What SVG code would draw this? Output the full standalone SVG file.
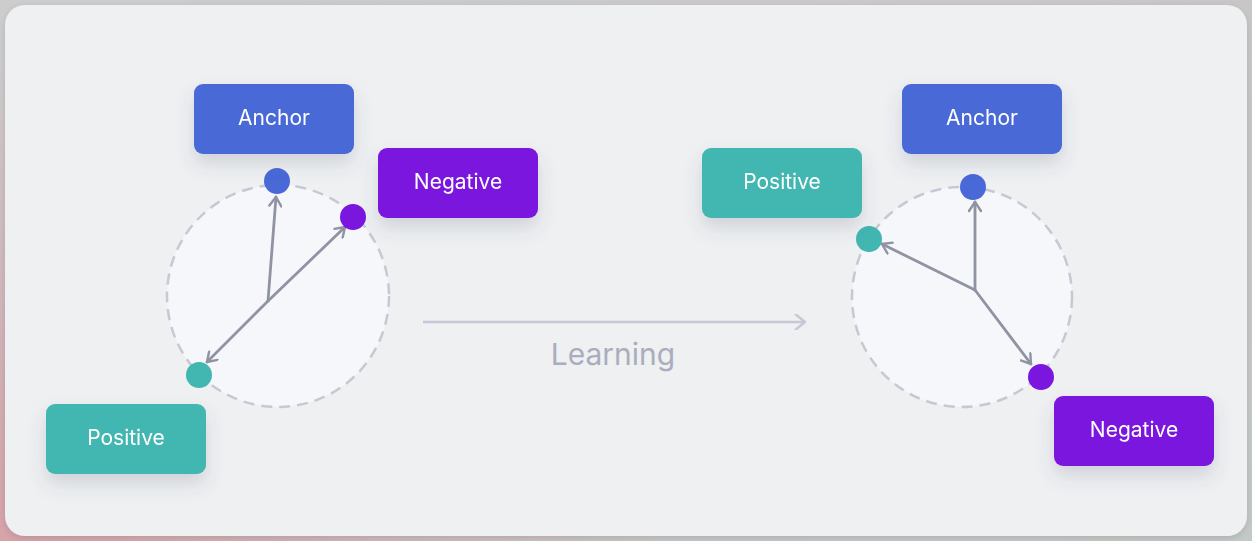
<svg xmlns="http://www.w3.org/2000/svg" width="1252" height="541" viewBox="0 0 1252 541">
<style>
.lbl{font-family:Inter,"Noto Sans","Liberation Sans",sans-serif;font-size:21px;font-weight:400;fill:#ffffff;text-anchor:middle;dominant-baseline:central}
.ring{fill:#f5f7fb;stroke:#c6c9d3;stroke-width:2.5;stroke-dasharray:11 7}
.vec{stroke:#8f93a2;stroke-width:2.8;fill:none;stroke-linecap:round;marker-end:url(#chev)}
.anc{fill:#4869d7}
.neg{fill:#7a16de}
.pos{fill:#42b6b0}
</style>
<defs>
<linearGradient id="bg" x1="0" y1="0" x2="1" y2="1">
<stop offset="0" stop-color="#cdcdcd"/>
<stop offset="0.5" stop-color="#c9c6c8"/>
<stop offset="1" stop-color="#c3c9c6"/>
</linearGradient>
<radialGradient id="bg2" cx="0" cy="1" r="0.9" gradientUnits="objectBoundingBox" gradientTransform="translate(0,1) scale(0.6,1) translate(0,-1)">
<stop offset="0" stop-color="#d6a3a9" stop-opacity="1"/>
<stop offset="1" stop-color="#d6a3a9" stop-opacity="0"/>
</radialGradient>
<filter id="sh" x="-30%" y="-30%" width="160%" height="190%">
<feDropShadow dx="0" dy="10" stdDeviation="9" flood-color="#4a4f70" flood-opacity="0.18"/>
</filter>
<filter id="csh" x="-5%" y="-5%" width="110%" height="110%">
<feDropShadow dx="0" dy="2" stdDeviation="3" flood-color="#000" flood-opacity="0.12"/>
</filter>
<marker id="chev" viewBox="0 0 14 14" refX="12" refY="7" markerWidth="14" markerHeight="14" markerUnits="userSpaceOnUse" orient="auto">
<path d="M3,1 L12,7 L3,13" fill="none" stroke="#8f93a2" stroke-width="2.4" stroke-linecap="round" stroke-linejoin="round"/>
</marker>
<marker id="chevL" viewBox="0 0 14 14" refX="12" refY="7" markerWidth="16" markerHeight="16" markerUnits="userSpaceOnUse" orient="auto">
<path d="M4,0.5 L12,7 L4,13.5" fill="none" stroke="#c5c8d6" stroke-width="2.2" stroke-linecap="round" stroke-linejoin="round"/>
</marker>
</defs>
<rect width="1252" height="541" fill="url(#bg)"/>
<rect width="1252" height="541" fill="url(#bg2)"/>
<rect x="5" y="5" width="1242" height="531" rx="20" fill="#eef0f2" filter="url(#csh)"/>

<g id="left-space">
<circle class="ring" cx="278" cy="296" r="111"/>
</g>
<g id="right-space">
<circle class="ring" cx="962" cy="297" r="110"/>
</g>

<g id="connectors">
<line class="vec" x1="268" y1="301" x2="276" y2="197"/>
<line class="vec" x1="268" y1="301" x2="345" y2="227"/>
<line class="vec" x1="268" y1="301" x2="207" y2="362"/>
<line class="vec" x1="975" y1="290" x2="975" y2="202"/>
<line class="vec" x1="975" y1="290" x2="882" y2="244"/>
<line class="vec" x1="975" y1="290" x2="1031" y2="364"/>
<line x1="423" y1="322" x2="805" y2="322" stroke="#c5c8d6" stroke-width="2.5" marker-end="url(#chevL)"/>
<text x="613" y="354" font-family="Inter,'Noto Sans','Liberation Sans',sans-serif" font-size="30" fill="#a9adbd" text-anchor="middle" dominant-baseline="central">Learning</text>
</g>

<g id="left-dots">
<circle class="anc" cx="277" cy="181" r="13"/>
<circle class="neg" cx="353" cy="217" r="13"/>
<circle class="pos" cx="199" cy="375" r="13"/>
</g>
<g id="right-dots">
<circle class="anc" cx="973" cy="187" r="13"/>
<circle class="pos" cx="869" cy="239" r="13"/>
<circle class="neg" cx="1041" cy="377" r="13"/>
</g>

<g id="left-anchor" filter="url(#sh)">
<rect class="anc" x="194" y="84" width="160" height="70" rx="9"/>
<text class="lbl" x="274" y="117">Anchor</text>
</g>
<g id="left-negative" filter="url(#sh)">
<rect class="neg" x="378" y="148" width="160" height="70" rx="9"/>
<text class="lbl" x="458" y="181">Negative</text>
</g>
<g id="left-positive" filter="url(#sh)">
<rect class="pos" x="46" y="404" width="160" height="70" rx="9"/>
<text class="lbl" x="126" y="437">Positive</text>
</g>
<g id="right-positive" filter="url(#sh)">
<rect class="pos" x="702" y="148" width="160" height="70" rx="9"/>
<text class="lbl" x="782" y="181">Positive</text>
</g>
<g id="right-anchor" filter="url(#sh)">
<rect class="anc" x="902" y="84" width="160" height="70" rx="9"/>
<text class="lbl" x="982" y="117">Anchor</text>
</g>
<g id="right-negative" filter="url(#sh)">
<rect class="neg" x="1054" y="396" width="160" height="70" rx="9"/>
<text class="lbl" x="1134" y="429">Negative</text>
</g>
</svg>
